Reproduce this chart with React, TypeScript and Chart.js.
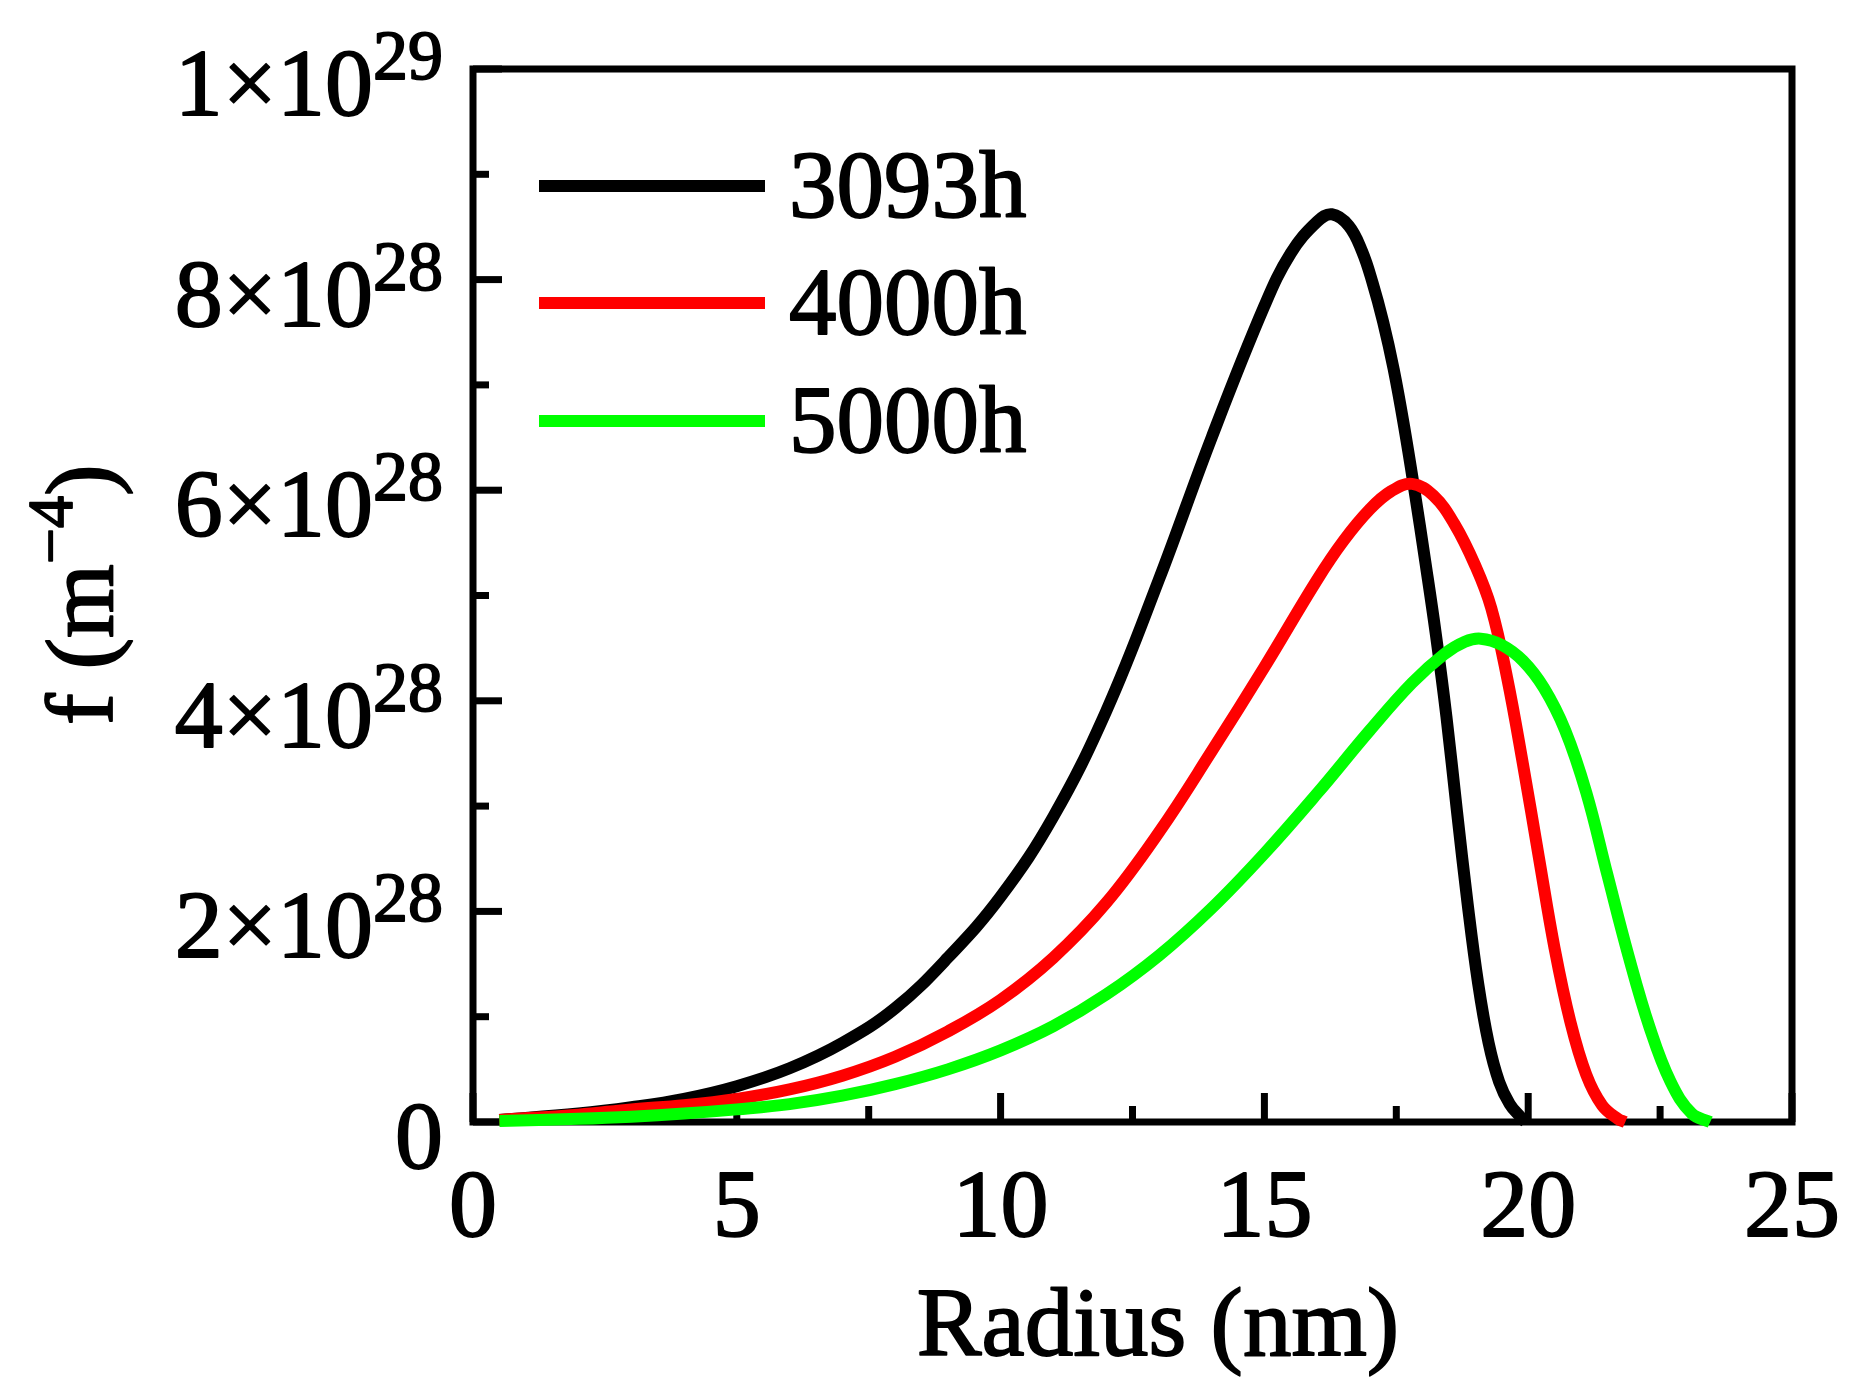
import React, { useEffect, useRef } from 'react';
import { Chart, registerables } from 'chart.js';

Chart.register(...registerables);

// radius in nm, f in units of 1e28 m^-4
const r3093 = [0.5, 2, 3, 4, 5, 6, 7, 8, 9, 10, 11, 12, 13, 14, 15, 15.5, 16, 16.28, 16.6, 16.85, 17.05, 17.25, 17.45, 17.65, 17.85, 18.05, 18.25, 18.45, 18.65, 18.85, 19.05, 19.25, 19.45, 19.65, 19.85, 19.95];
const f3093 = [0.02, 0.08, 0.14, 0.22, 0.34, 0.51, 0.75, 1.08, 1.56, 2.14, 2.9, 3.9, 5.15, 6.5, 7.75, 8.25, 8.55, 8.62, 8.51, 8.27, 7.97, 7.6, 7.15, 6.6, 5.98, 5.32, 4.63, 3.85, 2.95, 2.08, 1.32, 0.75, 0.38, 0.17, 0.05, 0.0];

const r4000 = [0.5, 2, 3, 4, 5, 6, 7, 8, 9, 10, 11, 12, 13, 14, 15, 16, 16.5, 17, 17.4, 17.8, 18.2, 18.6, 19.0, 19.3, 19.6, 19.9, 20.2, 20.5, 20.8, 21.1, 21.4, 21.7, 21.84];
const f4000 = [0.02, 0.07, 0.12, 0.16, 0.22, 0.31, 0.44, 0.62, 0.86, 1.16, 1.56, 2.08, 2.75, 3.52, 4.32, 5.15, 5.52, 5.82, 5.99, 6.06, 5.95, 5.68, 5.28, 4.88, 4.22, 3.4, 2.52, 1.65, 0.95, 0.45, 0.16, 0.03, 0.0];

const r5000 = [0.5, 2, 3, 4, 5, 6, 7, 8, 9, 10, 11, 12, 13, 14, 15, 16, 17, 17.8, 18.4, 18.8, 19.1, 19.5, 19.9, 20.3, 20.7, 21.1, 21.5, 21.9, 22.3, 22.7, 23.1, 23.45];
const f5000 = [0.01, 0.03, 0.05, 0.08, 0.12, 0.17, 0.25, 0.36, 0.5, 0.68, 0.91, 1.21, 1.58, 2.03, 2.55, 3.12, 3.72, 4.17, 4.44, 4.56, 4.59, 4.53, 4.38, 4.12, 3.72, 3.13, 2.35, 1.58, 0.9, 0.38, 0.08, 0.0];

const seriesLabels = ['3093h', '4000h', '5000h'];
const seriesColors = ['#000000', '#ff0000', '#00ff00'];

const xMajorTicks = [0, 5, 10, 15, 20, 25];
const xMinorTicks = [2.5, 7.5, 12.5, 17.5, 22.5];
const yMajorTicks = [0, 2, 4, 6, 8, 10];
const yMinorTicks = [1, 3, 5, 7, 9];
const yTickMantissa = ['0', '2×10', '4×10', '6×10', '8×10', '1×10'];
const yTickExponent = ['', '28', '28', '28', '28', '29'];

const SERIF = "'Liberation Serif', 'Times New Roman', serif";
const TEXT_STROKE = 1.8;

const toPoints = (xs: number[], ys: number[]) => xs.map((x, i) => ({ x, y: ys[i] }));

// slightly heavier text, like the reference raster
const heavyText = (ctx: CanvasRenderingContext2D, s: string, x: number, y: number) => {
  ctx.fillText(s, x, y);
  ctx.strokeText(s, x, y);
};

const framePlugin = {
  id: 'frame',
  beforeDatasetsDraw(chart: any) {
    const { ctx, chartArea: a, scales } = chart;
    const xs = scales.x;
    const ys = scales.y;
    ctx.save();
    ctx.strokeStyle = '#000';
    ctx.lineWidth = 7;
    ctx.strokeRect(a.left, a.top, a.right - a.left, a.bottom - a.top);
    xMajorTicks.forEach(v => {
      const px = xs.getPixelForValue(v);
      ctx.beginPath(); ctx.moveTo(px, a.bottom); ctx.lineTo(px, a.bottom - 29); ctx.stroke();
    });
    xMinorTicks.forEach(v => {
      const px = xs.getPixelForValue(v);
      ctx.beginPath(); ctx.moveTo(px, a.bottom); ctx.lineTo(px, a.bottom - 16); ctx.stroke();
    });
    yMajorTicks.forEach(v => {
      const py = ys.getPixelForValue(v);
      ctx.beginPath(); ctx.moveTo(a.left, py); ctx.lineTo(a.left + 29, py); ctx.stroke();
    });
    yMinorTicks.forEach(v => {
      const py = ys.getPixelForValue(v);
      ctx.beginPath(); ctx.moveTo(a.left, py); ctx.lineTo(a.left + 16, py); ctx.stroke();
    });
    ctx.restore();
  },
  afterDraw(chart: any) {
    const { ctx, chartArea: a, scales } = chart;
    const xs = scales.x;
    const ys = scales.y;
    ctx.save();
    ctx.fillStyle = '#000';
    ctx.strokeStyle = '#000';
    ctx.lineWidth = TEXT_STROKE;
    ctx.lineJoin = 'round';
    ctx.textBaseline = 'alphabetic';

    // x tick labels
    ctx.font = `96px ${SERIF}`;
    ctx.textAlign = 'center';
    xMajorTicks.forEach(v => {
      heavyText(ctx, String(v), xs.getPixelForValue(v), 1236);
    });

    // y tick labels with superscript exponent
    const labelRight = a.left - 30;
    ctx.textAlign = 'left';
    yMajorTicks.forEach((v, i) => {
      const py = ys.getPixelForValue(v);
      ctx.font = `70px ${SERIF}`;
      const ew = yTickExponent[i] ? ctx.measureText(yTickExponent[i]).width : 0;
      ctx.font = `96px ${SERIF}`;
      const mw = ctx.measureText(yTickMantissa[i]).width;
      const x0 = labelRight - ew - mw;
      heavyText(ctx, yTickMantissa[i], x0, py + 46);
      if (yTickExponent[i]) {
        ctx.font = `70px ${SERIF}`;
        heavyText(ctx, yTickExponent[i], x0 + mw, py + 10);
      }
    });

    // x title
    ctx.font = `97px ${SERIF}`;
    ctx.textAlign = 'center';
    heavyText(ctx, 'Radius (nm)', 1158, 1355);

    // y title, rotated
    ctx.save();
    ctx.translate(112, 725);
    ctx.rotate(-Math.PI / 2);
    ctx.textAlign = 'left';
    ctx.font = `95px ${SERIF}`;
    const t1 = 'f (m';
    heavyText(ctx, t1, 0, 0);
    let off = ctx.measureText(t1).width;
    ctx.font = `64px ${SERIF}`;
    heavyText(ctx, '\u22124', off, -40);
    off += ctx.measureText('\u22124').width;
    ctx.font = `95px ${SERIF}`;
    heavyText(ctx, ')', off, 0);
    ctx.restore();

    // legend
    const legendY = [186, 303, 421];
    seriesLabels.forEach((lab, i) => {
      ctx.strokeStyle = seriesColors[i];
      ctx.lineWidth = 12;
      ctx.beginPath();
      ctx.moveTo(539, legendY[i]);
      ctx.lineTo(765, legendY[i]);
      ctx.stroke();
      ctx.strokeStyle = '#000';
      ctx.lineWidth = TEXT_STROKE;
      ctx.font = `95px ${SERIF}`;
      ctx.textAlign = 'left';
      heavyText(ctx, lab, 789, legendY[i] + 31);
    });
    ctx.restore();
  },
};

const App: React.FC = () => {
  const canvasRef = useRef<HTMLCanvasElement>(null);
  const chartRef = useRef<any>(null);

  useEffect(() => {
    if (!canvasRef.current) return;
    if (chartRef.current) chartRef.current.destroy();

    const mk = (label: string, xs: number[], ys: number[], color: string, order: number) => ({
      label,
      data: toPoints(xs, ys),
      borderColor: color,
      backgroundColor: color,
      borderWidth: 12,
      pointRadius: 0,
      tension: 0.4,
      fill: false,
      clip: false as any,
      order,
    });

    chartRef.current = new Chart(canvasRef.current, {
      type: 'line',
      data: {
        datasets: [
          mk(seriesLabels[0], r3093, f3093, seriesColors[0], 3),
          mk(seriesLabels[1], r4000, f4000, seriesColors[1], 2),
          mk(seriesLabels[2], r5000, f5000, seriesColors[2], 1),
        ],
      },
      options: {
        animation: false,
        responsive: true,
        maintainAspectRatio: false,
        devicePixelRatio: 1,
        layout: { padding: { left: 473, right: 68, top: 69, bottom: 270 } },
        plugins: { legend: { display: false }, tooltip: { enabled: false } },
        scales: {
          x: { type: 'linear', min: 0, max: 25, display: false },
          y: { type: 'linear', min: 0, max: 10, display: false },
        },
      },
      plugins: [framePlugin],
    });

    return () => {
      if (chartRef.current) {
        chartRef.current.destroy();
        chartRef.current = null;
      }
    };
  }, []);

  return (
    <div style={{ position: 'absolute', left: 0, top: 0, width: 1860, height: 1392, background: '#fff' }}>
      <canvas ref={canvasRef}></canvas>
    </div>
  );
};

export default App;
